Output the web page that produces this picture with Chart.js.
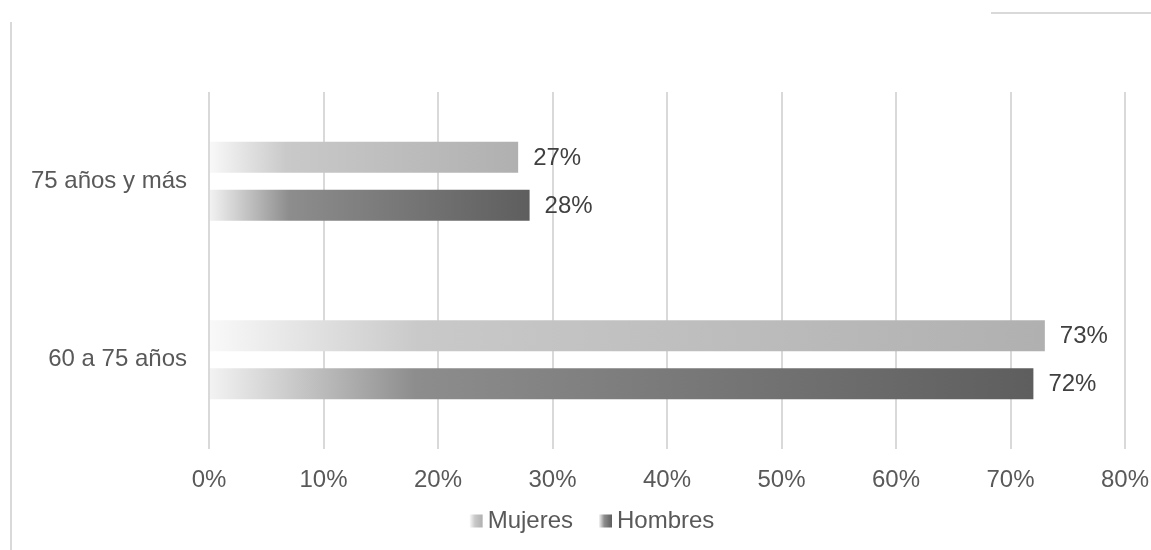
<!DOCTYPE html>
<html>
<head>
<meta charset="utf-8">
<script src="https://cdn.jsdelivr.net/npm/chart.js@4/dist/chart.umd.min.js"></script>
<style>
  body { margin: 0; background: #ffffff; }
  #wrap { position: relative; width: 1151px; height: 550px; }
</style>
</head>
<body>
<div id="wrap"><canvas id="barChart"></canvas></div>
<script>
// Data
const categories = ['75 años y más', '60 a 75 años'];
const mujeres = [27, 73];
const hombres = [28, 72];
const seriesNames = ['Mujeres', 'Hombres'];
const xTicks = [0, 10, 20, 30, 40, 50, 60, 70, 80];

const FONT = '"Liberation Sans", Arial, sans-serif';
const TEXT = '#595959';

// gradient stops per series (left -> right along each bar)
const gradStops = [
  [[0, '#f9f9f9'], [0.25, '#c9c9c9'], [1, '#b0b0b0']],
  [[0, '#f3f3f3'], [0.25, '#8d8d8d'], [1, '#5e5e5e']]
];

function barGradient(ctx) {
  const chart = ctx.chart;
  const stops = gradStops[ctx.datasetIndex];
  const xScale = chart.scales.x;
  if (!chart.chartArea || !xScale || ctx.raw === undefined) return stops[2][1];
  const x0 = xScale.getPixelForValue(0);
  const x1 = xScale.getPixelForValue(ctx.raw);
  const g = chart.ctx.createLinearGradient(x0, 0, x1, 0);
  stops.forEach(s => g.addColorStop(s[0], s[1]));
  return g;
}

// value labels right of each bar
const valueLabels = {
  id: 'valueLabels',
  afterDatasetsDraw(chart) {
    const c = chart.ctx;
    c.save();
    c.font = '24px ' + FONT;
    c.fillStyle = '#404040';
    c.textAlign = 'left';
    c.textBaseline = 'middle';
    chart.data.datasets.forEach((ds, i) => {
      chart.getDatasetMeta(i).data.forEach((bar, j) => {
        c.fillText(ds.data[j] + '%', bar.x + 15, bar.y + 1);
      });
    });
    c.restore();
  }
};

// legend with small gradient squares, plus the frame fragments
const extras = {
  id: 'extras',
  afterDraw(chart) {
    const c = chart.ctx;
    c.save();
    // frame fragments
    c.strokeStyle = '#d9d9d9';
    c.lineWidth = 2;
    c.beginPath();
    c.moveTo(11, 22); c.lineTo(11, 550);
    c.moveTo(991, 13); c.lineTo(1151, 13);
    c.stroke();

    // legend
    c.font = '24px ' + FONT;
    c.textBaseline = 'middle';
    c.textAlign = 'left';
    const box = 13, gap = 5, itemGap = 26;
    const widths = seriesNames.map(n => c.measureText(n).width);
    const total = widths.reduce((a, w) => a + box + gap + w, 0) + itemGap * (seriesNames.length - 1);
    let x = 592 - total / 2;
    const y = 521;
    seriesNames.forEach((name, i) => {
      const stops = gradStops[i];
      const g = c.createLinearGradient(x, 0, x + box, 0);
      g.addColorStop(0, stops[0][1]);
      g.addColorStop(0.4, stops[1][1]);
      g.addColorStop(1, stops[2][1]);
      c.fillStyle = g;
      c.fillRect(x, y - box / 2, box, box);
      c.fillStyle = TEXT;
      c.fillText(name, x + box + gap, y);
      x += box + gap + widths[i] + itemGap;
    });
    c.restore();
  }
};

const ctx = document.getElementById('barChart').getContext('2d');
new Chart(ctx, {
  type: 'bar',
  data: {
    labels: categories,
    datasets: [
      { label: seriesNames[0], data: mujeres, backgroundColor: barGradient },
      { label: seriesNames[1], data: hombres, backgroundColor: barGradient }
    ]
  },
  options: {
    indexAxis: 'y',
    responsive: true,
    maintainAspectRatio: false,
    animation: false,
    layout: { padding: { top: 92, right: 26, bottom: 0, left: 0 } },
    datasets: {
      bar: { barPercentage: 0.646, categoryPercentage: 0.538 }
    },
    plugins: {
      legend: { display: false },
      tooltip: { enabled: false }
    },
    scales: {
      x: {
        min: 0,
        max: 80,
        afterBuildTicks: scale => { scale.ticks = xTicks.map(v => ({ value: v })); },
        afterFit: scale => {
          scale.height = 101;
          scale.paddingLeft = 0;
          scale.paddingRight = 0;
        },
        grid: { color: '#d9d9d9', lineWidth: 2, drawTicks: false },
        border: { display: false },
        ticks: {
          padding: 17,
          color: TEXT,
          font: { family: FONT, size: 24 },
          callback: v => v + '%'
        }
      },
      y: {
        afterFit: scale => { scale.width = 209; },
        grid: { display: false, drawTicks: false },
        border: { display: false },
        ticks: {
          padding: 22,
          color: TEXT,
          font: { family: FONT, size: 24 }
        }
      }
    }
  },
  plugins: [valueLabels, extras]
});
</script>
</body>
</html>
